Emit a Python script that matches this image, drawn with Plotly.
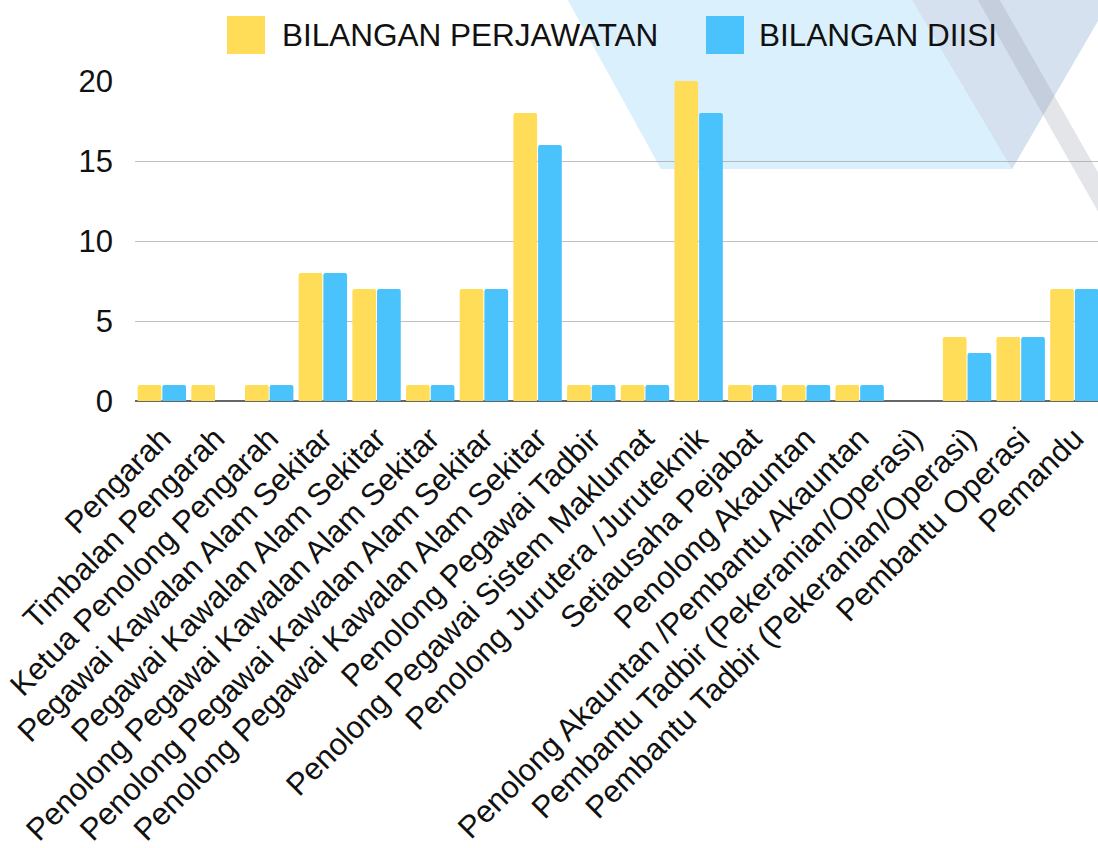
import plotly.graph_objects as go

categories = [
    "Pengarah",
    "Timbalan Pengarah",
    "Ketua Penolong Pengarah",
    "Pegawai Kawalan Alam Sekitar",
    "Pegawai Kawalan Alam Sekitar",
    "Penolong Pegawai Kawalan Alam Sekitar",
    "Penolong Pegawai Kawalan Alam Sekitar",
    "Penolong Pegawai Kawalan Alam Sekitar",
    "Penolong Pegawai Tadbir",
    "Penolong Pegawai Sistem Maklumat",
    "Penolong Jurutera /Juruteknik",
    "Setiausaha Pejabat",
    "Penolong Akauntan",
    "Penolong Akauntan /Pembantu Akauntan",
    "Pembantu Tadbir (Pekeranian/Operasi)",
    "Pembantu Tadbir (Pekeranian/Operasi)",
    "Pembantu Operasi",
    "Pemandu",
]
perjawatan = [1, 1, 1, 8, 7, 1, 7, 18, 1, 1, 20, 1, 1, 1, 0, 4, 4, 7]
diisi = [1, 0, 1, 8, 7, 1, 7, 16, 1, 1, 18, 1, 1, 1, 0, 3, 4, 7]
series_names = ["BILANGAN PERJAWATAN", "BILANGAN DIISI"]
y_ticks = [0, 5, 10, 15, 20]

YELLOW = "#FFDD59"
BLUE = "#4AC3FD"
FONT = "Arial, Liberation Sans, sans-serif"

W, H = 1098, 848
ML, MR, MT, MB = 135, 0, 81, 447
PW, PH = W - ML - MR, H - MT - MB


def px(x, y):
    return (x - ML) / PW, (H - MB - y) / PH


def poly(points):
    s = ""
    for i, (x, y) in enumerate(points):
        a, b = px(x, y)
        s += ("M" if i == 0 else "L") + f"{a:.4f},{b:.4f}"
    return s + "Z"


idx = list(range(len(categories)))

fig = go.Figure()
fig.add_trace(go.Bar(x=idx, y=perjawatan, name=series_names[0],
                     marker=dict(color=YELLOW, line=dict(width=0), cornerradius=2)))
fig.add_trace(go.Bar(x=idx, y=diisi, name=series_names[1],
                     marker=dict(color=BLUE, line=dict(width=0), cornerradius=2)))

shapes = [
    dict(type="path", path=poly([(565, -5), (661, 169), (1012, 169), (1113, -5)]),
         xref="paper", yref="paper", fillcolor="#dbf0fd", line=dict(width=0), layer="below"),
    dict(type="path", path=poly([(909, -5), (1012, 169), (1113, -5)]),
         xref="paper", yref="paper", fillcolor="#d5e1ef", line=dict(width=0), layer="below"),
    dict(type="path", path=poly([(975, -5), (997, -5), (1125, 220), (1125, 259)]),
         xref="paper", yref="paper", fillcolor="rgba(150,155,165,0.26)", line=dict(width=0), layer="below"),
]
# custom legend swatches
for (x0, col) in [(227, YELLOW), (706, BLUE)]:
    a0, b0 = px(x0, 54)
    a1, b1 = px(x0 + 38, 16)
    shapes.append(dict(type="rect", xref="paper", yref="paper", x0=a0, x1=a1, y0=b0, y1=b1,
                       fillcolor=col, line=dict(width=0)))

annotations = []
for (x0, name) in [(280, series_names[0]), (757, series_names[1])]:
    a, b = px(x0, 35)
    annotations.append(dict(x=a, y=b, xref="paper", yref="paper", text=name, showarrow=False,
                            xanchor="left", yanchor="middle",
                            font=dict(family=FONT, size=31.5, color="#111")))

fig.update_layout(
    width=W, height=H,
    margin=dict(l=ML, r=MR, t=MT, b=MB, autoexpand=False),
    paper_bgcolor="white", plot_bgcolor="rgba(0,0,0,0)",
    barmode="group", bargap=0.08, bargroupgap=0.04,
    showlegend=False,
    shapes=shapes, annotations=annotations,
    font=dict(family=FONT, size=31, color="#111"),
)
fig.update_xaxes(range=[-0.5, 17.44], tickmode="array", tickvals=idx, ticktext=categories,
                 tickangle=-45, tickfont=dict(size=31, family=FONT, color="#111"),
                 showgrid=False, zeroline=False, showline=False, ticks="",
                 ticklabelstandoff=12, automargin=False)
fig.update_yaxes(range=[0, 20], tickvals=y_ticks, showgrid=True, gridcolor="rgba(150,150,150,0.6)",
                 gridwidth=1, zeroline=True, zerolinecolor="#666", zerolinewidth=1.5,
                 tickfont=dict(size=31, family=FONT, color="#111"), ticks="",
                 ticklabelstandoff=21, automargin=False)

fig.write_html("out.html", config={"displayModeBar": False},
               post_script="document.body.style.margin='0';document.body.style.overflow='hidden';")
